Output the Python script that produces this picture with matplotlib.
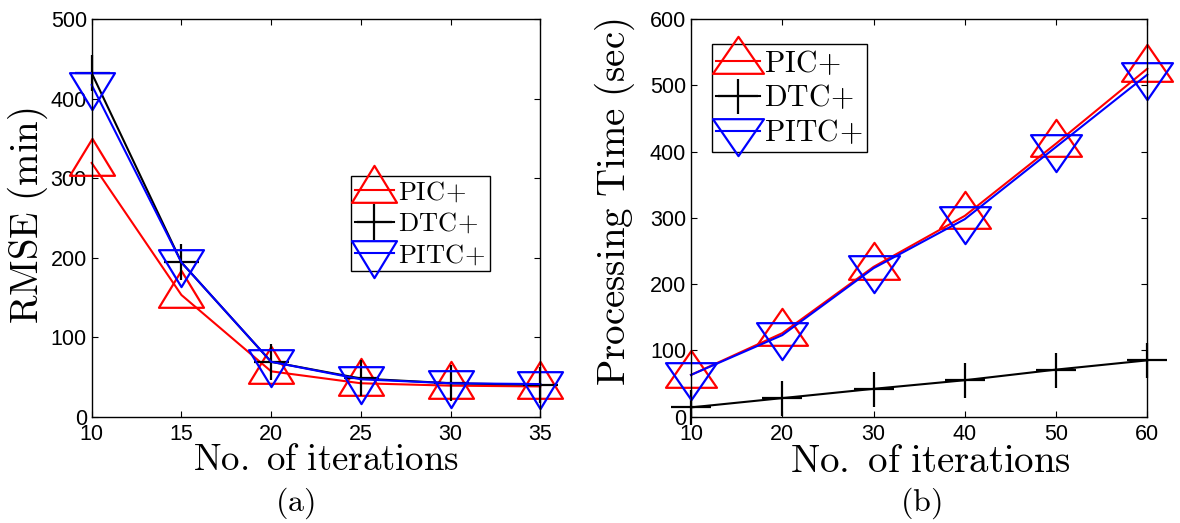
import numpy as np
import matplotlib.pyplot as plt
from matplotlib.path import Path

plt.rcParams['mathtext.fontset'] = 'cm'
plt.rcParams['font.family'] = ['Liberation Sans', 'DejaVu Sans']

# (a) RMSE vs iterations
iters_a = [10, 15, 20, 25, 30, 35]
rmse_pic = [319, 153, 57, 42, 39, 38]
rmse_dtc = [432, 194, 69, 48, 42, 40]
rmse_pitc = [417, 194, 69, 47, 42, 41]

# (b) processing time vs iterations
iters_b = [10, 20, 30, 40, 50, 60]
time_pic = [63, 126, 226, 303, 412, 525]
time_dtc = [14, 28, 42, 55, 71, 85]
time_pitc = [63, 123, 224, 298, 407, 516]

labels = [r'$\mathrm{PIC}\!+$', r'$\mathrm{DTC}\!+$', r'$\mathrm{PITC}\!+$']
colors = ['r', 'k', 'b']


# matlab-like markers: triangles a bit wider than tall, centred on the centroid
# sizes in points; returns (path, markersize)
def tri(w, h, up=True):
    s = 1 if up else -1
    verts = [(0, s * 2 * h / 3), (-w / 2, -s * h / 3), (w / 2, -s * h / 3),
             (0, s * 2 * h / 3)]
    codes = [Path.MOVETO, Path.LINETO, Path.LINETO, Path.CLOSEPOLY]
    m = max(abs(v) for p in verts for v in p)
    return Path(verts, codes), 2 * m


def plus(w, h):
    verts = [(-w / 2, 0), (w / 2, 0), (0, -h / 2), (0, h / 2)]
    codes = [Path.MOVETO, Path.LINETO, Path.MOVETO, Path.LINETO]
    m = max(abs(v) for p in verts for v in p)
    return Path(verts, codes), 2 * m


fig = plt.figure(figsize=(11.8, 5.23), dpi=100)
ax1 = fig.add_axes([0.0777, 0.2033, 0.3802, 0.7604])
ax2 = fig.add_axes([0.5856, 0.2033, 0.3867, 0.7604])


def draw(ax, x, series, markers):
    for y, c, (mk, ms), lab in zip(series, colors, markers, labels):
        ax.plot(x, y, color=c, marker=mk, ms=ms, mfc='none', mew=1.6,
                lw=1.5, label=lab, clip_on=False)


def style_axes(ax):
    ax.tick_params(direction='in', top=True, right=True, labelsize=15.5,
                   length=4, width=0.8, pad=3.5)
    ax.tick_params(axis='x', pad=5)
    for s in ax.spines.values():
        s.set_linewidth(1.0)


# panel (a)
mk_a = [tri(32.4, 26.6, True), plus(25.2, 26.0), tri(32.4, 26.6, False)]
draw(ax1, iters_a, [rmse_pic, rmse_dtc, rmse_pitc], mk_a)
ax1.set_xlim(10, 35)
ax1.set_ylim(0, 500)
ax1.set_xticks(iters_a)
ax1.set_yticks([0, 100, 200, 300, 400, 500])
style_axes(ax1)
ax1.set_xlabel(r'$\mathrm{No.\ of\ iterations}$', fontsize=26.5, va='baseline')
ax1.xaxis.set_label_coords(0.522, -0.134)
ax1.set_ylabel(r'$\mathrm{RMSE\ (min)}$', fontsize=28, va='center')
ax1.yaxis.set_label_coords(-0.142, 0.505)
ax1.legend(loc='upper left', bbox_to_anchor=(0.5774, 0.6052), fontsize=19,
           fancybox=False, framealpha=1, edgecolor='k', handlelength=1.5,
           handletextpad=0.15, labelspacing=0.25, borderpad=0.15,
           borderaxespad=0)
ax1.text(0.453, -0.217, r'$\mathrm{(a)}$', transform=ax1.transAxes,
         ha='center', va='center', fontsize=23)

# panel (b)
mk_b = [tri(36.7, 26.6, True), plus(28.8, 25.2), tri(36.7, 26.6, False)]
draw(ax2, iters_b, [time_pic, time_dtc, time_pitc], mk_b)
ax2.set_xlim(10, 60)
ax2.set_ylim(0, 600)
ax2.set_xticks(iters_b)
ax2.set_yticks([0, 100, 200, 300, 400, 500, 600])
style_axes(ax2)
ax2.set_xlabel(r'$\mathrm{No.\ of\ iterations}$', fontsize=28, va='baseline')
ax2.xaxis.set_label_coords(0.524, -0.139)
ax2.set_ylabel(r'$\mathrm{Processing\ Time\ (sec)}$', fontsize=28, va='center')
ax2.yaxis.set_label_coords(-0.166, 0.539)
ax2.legend(loc='upper left', bbox_to_anchor=(0.0454, 0.9364), fontsize=21.5,
           fancybox=False, framealpha=1, edgecolor='k', handlelength=1.45,
           handletextpad=0.15, labelspacing=0.2, borderpad=0.15,
           borderaxespad=0)
ax2.text(0.504, -0.217, r'$\mathrm{(b)}$', transform=ax2.transAxes,
         ha='center', va='center', fontsize=23)

fig.savefig('out.png', dpi=100)
